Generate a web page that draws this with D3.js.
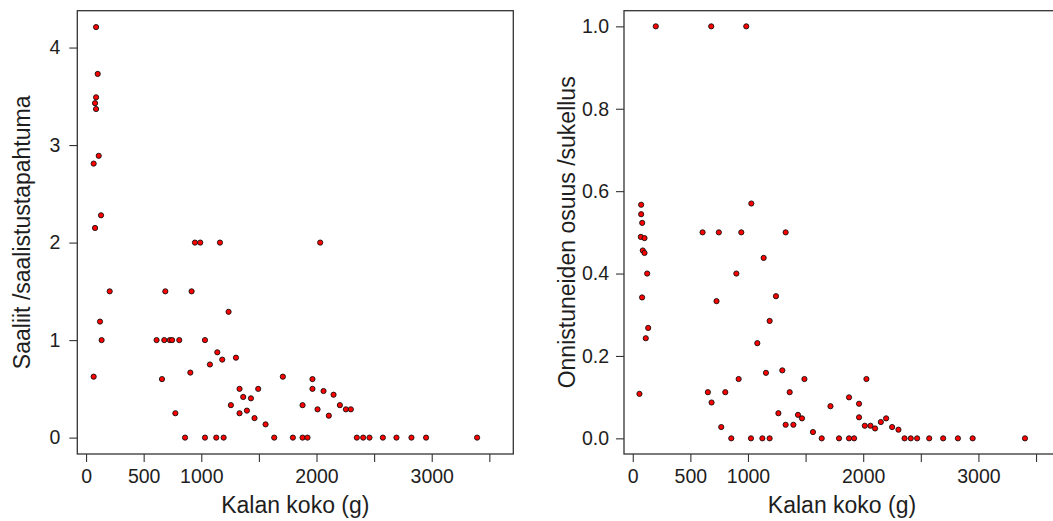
<!DOCTYPE html>
<html>
<head>
<meta charset="utf-8">
<script src="https://cdn.jsdelivr.net/npm/d3@7"></script>
<style>
  html, body { margin: 0; padding: 0; background: #fff; }
  svg { display: block; }
  text { font-family: "Liberation Sans", Arial, sans-serif; fill: #1e1e1e; }
</style>
</head>
<body>
<svg id="chart" width="1053" height="521"></svg>
<script>
// ---------- DATA ----------
// Left panel: Saaliit /saalistustapahtuma vs Kalan koko (g)
const leftX = [87, 101, 87, 78, 87, 110, 66, 130, 78,
  945, 991, 1162, 2032,
  205, 688, 916,
  1237, 121,
  135, 612, 679, 727, 747, 809, 1032,
  1139, 1301, 1182, 1075, 905,
  66, 1708, 1965, 659,
  1332, 1494, 1965, 2061, 2148, 1364, 1431,
  1257, 1879, 2203, 2009, 2255, 2298, 1396,
  775, 1332, 2107, 1462, 1558,
  859, 1032, 1130, 1194, 1633, 1795, 1879, 1922, 2350, 2405, 2460, 2576, 2694, 2824, 2951, 3394];
const leftY = [4.21, 3.73, 3.49, 3.43, 3.37, 2.89, 2.81, 2.28, 2.15,
  2, 2, 2, 2,
  1.5, 1.5, 1.5,
  1.29, 1.19,
  1, 1, 1, 1, 1, 1, 1,
  0.875, 0.82, 0.8, 0.75, 0.667,
  0.625, 0.625, 0.6, 0.6,
  0.5, 0.5, 0.5, 0.478, 0.44, 0.417, 0.403,
  0.333, 0.333, 0.333, 0.29, 0.29, 0.29, 0.277,
  0.25, 0.25, 0.225, 0.2, 0.136,
  0, 0, 0, 0, 0, 0, 0, 0, 0, 0, 0, 0, 0, 0, 0, 0];

// Right panel: Onnistuneiden osuus /sukellus vs Kalan koko (g)
const rightX = [200, 681, 985,
  73, 73, 82, 1029,
  606, 747, 942, 1327,
  70, 102, 87, 102, 1136,
  125, 899, 81, 727, 1243, 1188, 134, 113, 1081,
  1298, 1156, 919, 1490, 2028,
  652, 803, 1362, 58, 1877, 684, 1964, 1716,
  1264, 1434, 1964, 1469, 2199, 2153, 1327, 1394, 2014, 2063, 768, 2251, 2103, 2306, 1564,
  855, 1026, 1125, 1188, 1640, 1790, 1877, 1921, 2359, 2413, 2468, 2573, 2694, 2822, 2950, 3404];
const rightY = [1, 1, 1,
  0.567, 0.544, 0.523, 0.57,
  0.5, 0.5, 0.5, 0.5,
  0.489, 0.486, 0.456, 0.45, 0.438,
  0.4, 0.4, 0.342, 0.333, 0.345, 0.285, 0.268, 0.243, 0.231,
  0.165, 0.159, 0.144, 0.144, 0.144,
  0.112, 0.112, 0.112, 0.108, 0.0995, 0.087, 0.084, 0.078,
  0.061, 0.057, 0.051, 0.0485, 0.0485, 0.0396, 0.033, 0.033, 0.0306, 0.0306, 0.0274, 0.0274, 0.024, 0.021, 0.0153,
  0, 0, 0, 0, 0, 0, 0, 0, 0, 0, 0, 0, 0, 0, 0, 0];

const xTicks = [0, 500, 1000, 1500, 2000, 2500, 3000, 3500];
const xTickLabels = ["0", "500", "1000", "", "2000", "", "3000", ""];
const leftYTicks = [0, 1, 2, 3, 4];
const leftYTickLabels = ["0", "1", "2", "3", "4"];
const rightYTicks = [0, 0.2, 0.4, 0.6, 0.8, 1.0];
const rightYTickLabels = ["0.0", "0.2", "0.4", "0.6", "0.8", "1.0"];

const xTitle = "Kalan koko (g)";
const leftYTitle = "Saaliit /saalistustapahtuma";
const rightYTitle = "Onnistuneiden osuus /sukellus";

// ---------- DRAW ----------
const svg = d3.select("#chart");
const boxTop = 10.7, boxBottom = 454;
const xDomain = [-76, 3708];

function panel(cfg) {
  const x = d3.scaleLinear().domain(xDomain).range([cfg.left, cfg.right]);
  const y = d3.scaleLinear().domain(cfg.yDomain).range([boxBottom, boxTop]);
  const g = svg.append("g");

  // x axis
  const xAxis = d3.axisBottom(x).tickValues(xTicks)
    .tickFormat((d, i) => xTickLabels[i]).tickSize(8).tickSizeOuter(0).tickPadding(7);
  const gx = g.append("g").attr("transform", `translate(0,${boxBottom})`).call(xAxis);
  gx.select(".domain").remove();

  // y axis
  const yAxis = d3.axisLeft(y).tickValues(cfg.yTicks)
    .tickFormat((d, i) => cfg.yTickLabels[i]).tickSize(8).tickSizeOuter(0).tickPadding(cfg.yPad);
  const gy = g.append("g").attr("transform", `translate(${cfg.left},0)`).call(yAxis);
  gy.select(".domain").remove();

  [gx, gy].forEach(a => {
    a.selectAll(".tick line").attr("stroke", "#333").attr("stroke-width", 1.1);
    a.selectAll(".tick text").style("font-size", "19.5px").style("font-family", '"Liberation Sans", Arial, sans-serif').attr("fill", "#1e1e1e");
  });

  // box
  g.append("rect")
    .attr("x", cfg.left).attr("y", boxTop)
    .attr("width", cfg.right - cfg.left).attr("height", boxBottom - boxTop)
    .attr("fill", "none").attr("stroke", "#333").attr("stroke-width", 1.3);

  // points
  g.append("g").selectAll("circle")
    .data(cfg.xs.map((v, i) => [v, cfg.ys[i]]))
    .join("circle")
    .attr("cx", d => x(d[0]))
    .attr("cy", d => y(d[1]))
    .attr("r", 2.6)
    .attr("fill", "#ff0000")
    .attr("stroke", "#111")
    .attr("stroke-width", 0.9);

  // titles
  g.append("text")
    .attr("x", (cfg.left + cfg.right) / 2).attr("y", 513)
    .attr("text-anchor", "middle").style("font-size", "23px")
    .text(xTitle);
  g.append("text")
    .attr("transform", `translate(${cfg.yTitleX},${(boxTop + boxBottom) / 2}) rotate(-90)`)
    .attr("text-anchor", "middle").style("font-size", "23px")
    .text(cfg.yTitle);
}

panel({
  left: 77.3, right: 513.3,
  yDomain: [-0.168, 4.378],
  yTicks: leftYTicks, yTickLabels: leftYTickLabels, yPad: 9,
  xs: leftX, ys: leftY,
  yTitle: leftYTitle, yTitleX: 30
});

panel({
  left: 624, right: 1060,
  yDomain: [-0.038, 1.038],
  yTicks: rightYTicks, yTickLabels: rightYTickLabels, yPad: 7,
  xs: rightX, ys: rightY,
  yTitle: rightYTitle, yTitleX: 575
});
</script>
</body>
</html>
